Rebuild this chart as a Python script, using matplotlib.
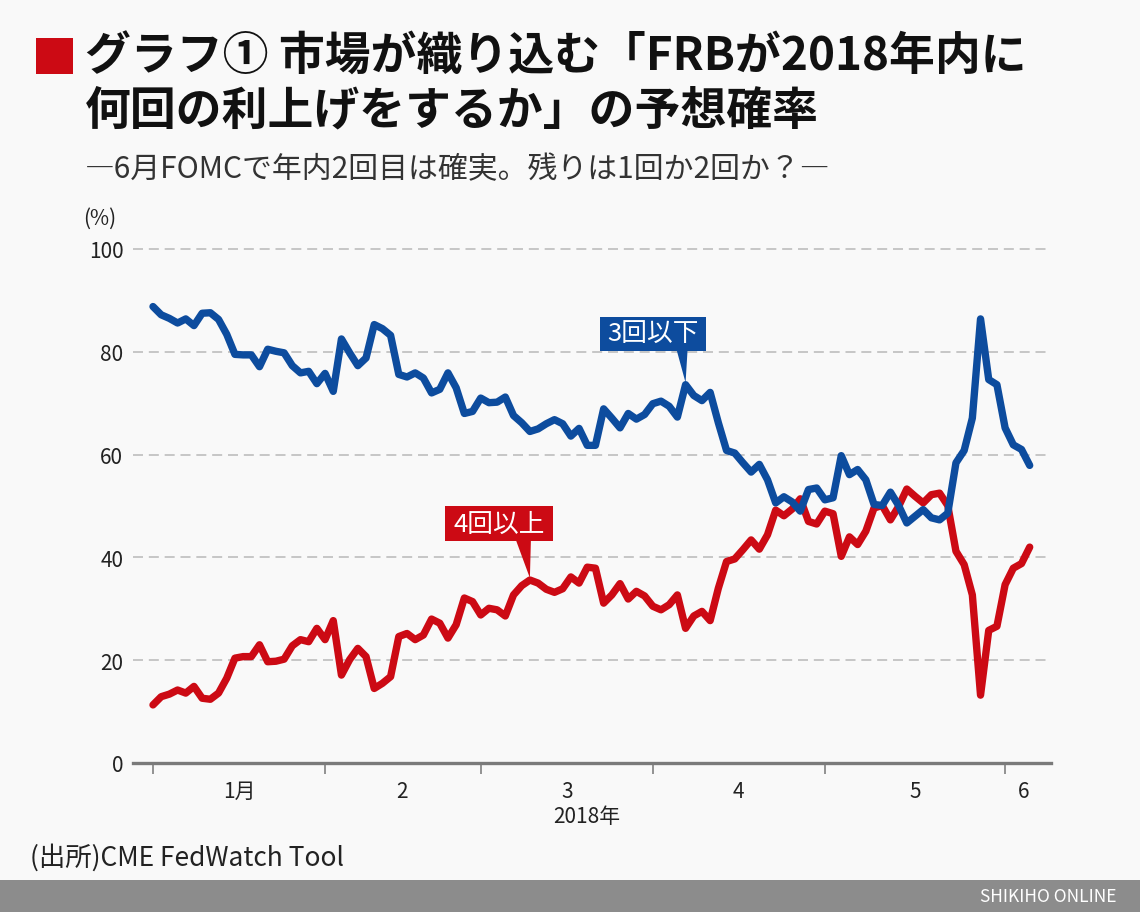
import numpy as np
import matplotlib
matplotlib.use("Agg")
import matplotlib.pyplot as plt
from matplotlib.patches import Rectangle, Polygon

plt.rcParams['font.family'] = ['Noto Sans CJK JP', 'DejaVu Sans']

# ---------------- data ----------------
blue_label = "3回以下"
red_label = "4回以上"

blue_vals = [88.8, 87.2, 86.5, 85.6, 86.4, 85.1, 87.5, 87.6, 86.3, 83.4,
             79.5, 79.4, 79.4, 77.1, 80.5, 80.1, 79.8, 77.3, 75.9, 76.2,
             73.8, 75.8, 72.3, 82.5, 79.8, 77.3, 78.8, 85.3, 84.5, 83.2,
             75.6, 75.1, 75.9, 74.9, 72.0, 72.7, 75.9, 73.0, 68.0, 68.4,
             71.0, 70.1, 70.2, 71.2, 67.6, 66.2, 64.5, 65.0, 66.0, 66.8,
             66.0, 63.6, 65.1, 61.8, 61.8, 68.9, 67.1, 65.2, 68.0, 66.9,
             67.8, 69.9, 70.4, 69.4, 67.3, 73.6, 71.5, 70.5, 72.1, 66.2,
             60.8, 60.3, 58.4, 56.6, 58.1, 55.1, 50.6, 51.8, 50.8, 49.0,
             53.2, 53.5, 51.2, 51.6, 59.8, 56.1, 57.1, 55.1, 50.3, 50.1,
             52.7, 50.1, 46.7, 48.0, 49.3, 47.7, 47.3, 48.6, 58.4, 60.8,
             67.1, 86.4, 74.6, 73.6, 65.2, 61.9, 61.0, 57.9]

red_vals = [11.3, 12.9, 13.4, 14.2, 13.6, 14.9, 12.6, 12.4, 13.6, 16.5,
            20.4, 20.7, 20.7, 23.0, 19.7, 19.8, 20.2, 22.8, 24.0, 23.6,
            26.2, 24.0, 27.7, 17.1, 20.1, 22.3, 20.7, 14.5, 15.5, 16.8,
            24.6, 25.2, 24.0, 24.9, 28.0, 27.2, 24.3, 26.9, 32.1, 31.4,
            28.8, 30.1, 29.8, 28.6, 32.7, 34.5, 35.6, 35.0, 33.8, 33.2,
            33.9, 36.2, 35.0, 38.1, 37.9, 31.1, 32.7, 34.9, 31.9, 33.4,
            32.5, 30.5, 29.8, 30.8, 32.7, 26.2, 28.6, 29.5, 27.7, 34.0,
            39.2, 39.7, 41.5, 43.4, 41.6, 44.4, 49.2, 48.1, 49.4, 51.4,
            47.0, 46.5, 49.0, 48.5, 40.2, 44.0, 42.5, 45.1, 49.6, 50.1,
            47.3, 49.9, 53.3, 51.9, 50.6, 52.2, 52.5, 50.1, 41.2, 38.6,
            32.7, 13.2, 25.8, 26.6, 34.7, 37.9, 38.8, 42.0]

month_labels = ["1月", "2", "3", "4", "5", "6"]
year_label = "2018年"
yticks = [0, 20, 40, 60, 80, 100]

# ---------------- layout ----------------
W, H = 1140, 920
BG = "#f9f9f9"
BLUE = "#0d4c9e"
RED = "#cc0a14"

month_start_idx = [0, 21, 40, 61, 82, 104]      # first trading day of each month
month_label_pos = [10.6, 30.4, 50.5, 71.4, 93.0, 106.3]


def fx(px):
    return px / W


def fy(py):
    return 1 - py / H


fig = plt.figure(figsize=(W / 100, H / 100), dpi=100, facecolor=BG)
ax = fig.add_axes([fx(133), fy(764), (1051 - 133) / W, (764 - 250) / H])
ax.set_facecolor(BG)

x = np.arange(len(blue_vals))
ax.set_xlim(-2.44, 109.6)
ax.set_ylim(0, 100)

for v in yticks[1:]:
    ax.axhline(v, color="#bdbdbd", lw=1.2, ls=(0, (6, 3.5)), zorder=1, clip_on=False)

ax.plot(x, red_vals, color=RED, lw=5.3, solid_joinstyle="round",
        solid_capstyle="round", zorder=3)
ax.plot(x, blue_vals, color=BLUE, lw=5.3, solid_joinstyle="round",
        solid_capstyle="round", zorder=4)

for s in ["top", "right", "left"]:
    ax.spines[s].set_visible(False)
ax.spines["bottom"].set_color("#7a7a7a")
ax.spines["bottom"].set_linewidth(2.4)
ax.spines["bottom"].set_zorder(5)

ax.set_yticks(yticks)
ax.set_yticklabels([str(v) for v in yticks])
ax.tick_params(axis="y", length=0, pad=7, labelsize=15, labelcolor="#222222")

ax.set_xticks(month_start_idx)
ax.set_xticklabels([""] * len(month_start_idx))
ax.tick_params(axis="x", which="major", length=8, width=1.3, color="#8a8a8a",
               direction="out")
ax.set_xticks(month_label_pos, minor=True)
ax.set_xticklabels(month_labels, minor=True)
ax.tick_params(axis="x", which="minor", length=0, pad=12, labelsize=15,
               labelcolor="#222222")

fig.text(fx(587), fy(817), year_label, fontsize=15, color="#222222",
         ha="center", va="center")
fig.text(fx(100), fy(219), "(%)", fontsize=15, color="#222222",
         ha="center", va="center")

# ---------------- callout labels ----------------
fig.canvas.draw()


def callout(idx, vals, text, color, left, right, top, bottom, base_l, base_r):
    tx, ty = ax.transData.transform((idx, vals[idx]))
    rect = Rectangle((tx + left, ty + bottom), right - left, top - bottom,
                     transform=None, facecolor=color, edgecolor="none", zorder=6)
    fig.add_artist(rect)
    tri = Polygon([(tx + base_l, ty + bottom + 1), (tx + base_r, ty + bottom + 1),
                   (tx, ty + 2)], closed=True, transform=None,
                  facecolor=color, edgecolor="none", zorder=6)
    fig.add_artist(tri)
    fig.text((tx + (left + right) / 2) / W, (ty + (top + bottom) / 2) / H, text,
             fontsize=18.5, color="white", ha="center", va="center", zorder=7)


callout(65, blue_vals, blue_label, BLUE, -86, 20, 68, 34, -9, 2)
callout(46, red_vals, red_label, RED, -85, 23, 74, 39, -14, 1)

# ---------------- titles ----------------
fig.patches.append(Rectangle((fx(36), fy(75)), 37 / W, 36 / H,
                             transform=fig.transFigure, facecolor="#cc0a14",
                             edgecolor="none"))
fig.text(fx(85), fy(58), "グラフ① 市場が織り込む「FRBが2018年内に",
         fontsize=33, fontweight="bold", color="#111111", ha="left", va="center")
fig.text(fx(85), fy(111), "何回の利上げをするか」の予想確率",
         fontsize=33, fontweight="bold", color="#111111", ha="left", va="center")
fig.text(fx(85), fy(170), "―6月FOMCで年内2回目は確実。残りは1回か2回か？―",
         fontsize=21.5, color="#333333", ha="left", va="center")

fig.text(fx(30), fy(858), "(出所)CME FedWatch Tool", fontsize=19,
         color="#222222", ha="left", va="center")

# bottom band
fig.patches.append(Rectangle((0, fy(913)), 1, (913 - 881) / H,
                             transform=fig.transFigure, facecolor="#8c8c8c",
                             edgecolor="none"))
fig.patches.append(Rectangle((0, 0), 1, (920 - 913) / H,
                             transform=fig.transFigure, facecolor="white",
                             edgecolor="none"))
fig.text(fx(1117), fy(897), "SHIKIHO ONLINE", fontsize=12.5, color="white",
         ha="right", va="center")

fig.savefig("out.png", dpi=100, facecolor=BG)
